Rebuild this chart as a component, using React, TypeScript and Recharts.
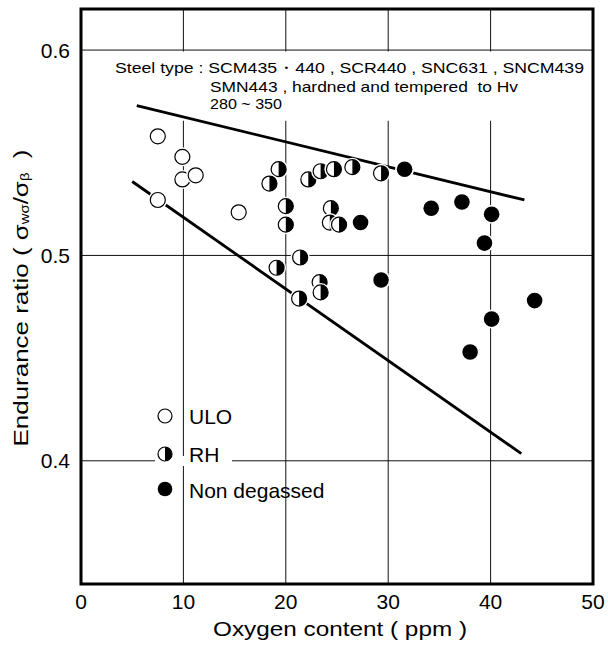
import { ScatterChart, Scatter, XAxis, YAxis, CartesianGrid, ReferenceArea } from "recharts"

// ULO (open circles)
const uloX = [7.5, 9.9, 9.9, 11.2, 7.5, 15.4]
const uloY = [0.558, 0.548, 0.537, 0.539, 0.527, 0.521]

// RH (half filled)
const rhX = [19.3, 18.4, 20.0, 20.0, 21.4, 19.1, 21.3, 22.2, 23.4, 24.7, 26.5, 29.3, 24.4, 24.3, 25.2, 23.3, 23.4]
const rhY = [0.542, 0.535, 0.524, 0.515, 0.499, 0.494, 0.479, 0.537, 0.541, 0.542, 0.543, 0.540, 0.523, 0.516, 0.515, 0.487, 0.482]

// Non degassed (filled)
const ndX = [31.6, 27.3, 34.2, 37.2, 40.1, 39.4, 29.3, 44.3, 40.1, 38.0]
const ndY = [0.542, 0.516, 0.523, 0.526, 0.520, 0.506, 0.488, 0.478, 0.469, 0.453]

// upper / lower bound lines
const upperX = [5.45, 43.3]
const upperY = [0.573, 0.527]
const lowerX = [5.0, 43.0]
const lowerY = [0.536, 0.4035]

const xTicks = [0, 10, 20, 30, 40, 50]
const yTicks = [0.4, 0.5, 0.6]

const font = "'Liberation Sans', Arial, sans-serif"

const pts = (xs: number[], ys: number[]) => xs.map((x, i) => ({ x, y: ys[i] }))

const R = 7.5

function OpenDot({ cx, cy }: any) {
  return (
    <g>
      <circle cx={cx} cy={cy} r={R + 2} fill="#fff" />
      <circle cx={cx} cy={cy} r={R} fill="#fff" stroke="#000" strokeWidth={1.2} />
    </g>
  )
}

function HalfDot({ cx, cy }: any) {
  return (
    <g>
      <circle cx={cx} cy={cy} r={R + 2} fill="#fff" />
      <circle cx={cx} cy={cy} r={R} fill="#fff" stroke="#000" strokeWidth={1.2} />
      <path d={`M${cx},${cy - R} A${R},${R} 0 0 1 ${cx},${cy + R} Z`} fill="#000" />
    </g>
  )
}

function FullDot({ cx, cy }: any) {
  return (
    <g>
      <circle cx={cx} cy={cy} r={R + 2} fill="#fff" />
      <circle cx={cx} cy={cy} r={R + 0.3} fill="#000" />
    </g>
  )
}

const NoShape = () => <g />

export default function App() {
  return (
    <div style={{ position: "absolute", left: 0, top: 0, width: 608, height: 645, background: "#fff" }}>
      <ScatterChart width={608} height={645} margin={{ top: 9, right: 15, bottom: 0, left: 0 }}>
        <CartesianGrid stroke="#111" strokeWidth={1} />
        <XAxis
          type="number"
          dataKey="x"
          domain={[0, 50]}
          ticks={xTicks}
          height={61}
          axisLine={false}
          tickLine={false}
          tickSize={8}
          tickMargin={2}
          tick={{ fontSize: 21, fill: "#000", fontFamily: font }}
        />
        <YAxis
          type="number"
          dataKey="y"
          domain={[0.34, 0.62]}
          ticks={yTicks}
          width={81}
          axisLine={false}
          tickLine={false}
          tickSize={9}
          tickMargin={2}
          tickFormatter={(v: number) => v.toFixed(1)}
          tick={{ fontSize: 21, fill: "#000", fontFamily: font }}
        />
        <ReferenceArea x1={1} x2={49} y1={0.5656} y2={0.5993} fill="#fff" fillOpacity={1} stroke="none" />
        <ReferenceArea x1={0} x2={50} y1={0.34} y2={0.62} fill="none" stroke="#000" strokeWidth={3} />
        <Scatter data={pts(upperX, upperY)} line={{ stroke: "#000", strokeWidth: 2.8 }} shape={NoShape} isAnimationActive={false} />
        <Scatter data={pts(lowerX, lowerY)} line={{ stroke: "#000", strokeWidth: 2.8 }} shape={NoShape} isAnimationActive={false} />
        <Scatter data={pts(uloX, uloY)} shape={OpenDot} isAnimationActive={false} />
        <Scatter data={pts(rhX, rhY)} shape={HalfDot} isAnimationActive={false} />
        <Scatter data={pts(ndX, ndY)} shape={FullDot} isAnimationActive={false} />
      </ScatterChart>

      <svg width={608} height={645} style={{ position: "absolute", left: 0, top: 0, pointerEvents: "none" }} fontFamily={font}>
        {/* axis titles */}
        <text
          transform="rotate(-90, 20, 298)"
          x={20}
          y={298}
          textAnchor="middle"
          dominantBaseline="central"
          fontSize={21}
          textLength={297}
          lengthAdjust="spacingAndGlyphs"
        >
          Endurance ratio ( σ<tspan dy={5} fontSize={12}>wσ</tspan><tspan dy={-5}>/σ</tspan><tspan dy={5} fontSize={12}>β</tspan><tspan dy={-5}>{"\u00a0\u00a0)"}</tspan>
        </text>
        <text x={340} y={628} textAnchor="middle" dominantBaseline="central" fontSize={21} textLength={254} lengthAdjust="spacingAndGlyphs">
          {"Oxygen content ( ppm )"}
        </text>

        {/* steel type note */}
        <g fontSize={14.5}>
          <text x={115} y={68} dominantBaseline="central" textLength={469} lengthAdjust="spacingAndGlyphs">
            {"Steel type : SCM435・440 , SCR440 , SNC631 , SNCM439"}
          </text>
          <text x={210} y={87} dominantBaseline="central" textLength={308} lengthAdjust="spacingAndGlyphs">
            {"SMN443 , hardned and tempered\u00a0\u00a0to Hv"}
          </text>
          <text x={210} y={104} dominantBaseline="central" textLength={72} lengthAdjust="spacingAndGlyphs">
            {"280 ~ 350"}
          </text>
        </g>

        {/* legend */}
        <rect x={155} y={456} width={77} height={10} fill="#fff" />
        <circle cx={165} cy={416} r={7} fill="#fff" stroke="#000" strokeWidth={1.2} />
        <circle cx={165} cy={454} r={7} fill="#fff" stroke="#000" strokeWidth={1.2} />
        <path d="M165,447 A7,7 0 0 1 165,461 Z" fill="#000" />
        <circle cx={165} cy={489} r={7.3} fill="#000" />
        <g fontSize={21}>
          <text x={189} y={416} dominantBaseline="central">ULO</text>
          <text x={189} y={454} dominantBaseline="central">RH</text>
          <text x={189} y={490} dominantBaseline="central">Non degassed</text>
        </g>
      </svg>
    </div>
  )
}
